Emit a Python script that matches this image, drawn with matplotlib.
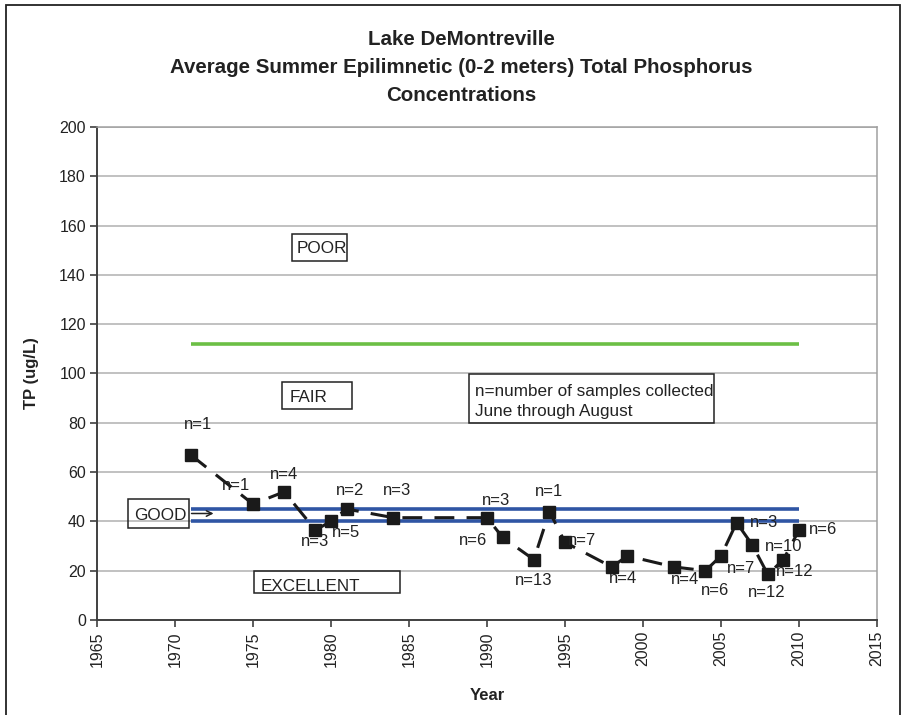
import matplotlib.pyplot as plt
from matplotlib.patches import Rectangle

plt.rcParams['font.family'] = ['Liberation Sans', 'DejaVu Sans']

# Data
years = [1971, 1975, 1977, 1979, 1980, 1981, 1984, 1990, 1991, 1993, 1994,
         1995, 1998, 1999, 2002, 2004, 2005, 2006, 2007, 2008, 2009, 2010]
tp = [67, 47, 52, 36.5, 40, 45, 41.5, 41.5, 33.5, 24.5, 44,
      31.5, 21.5, 26, 21.5, 20, 26, 39.5, 30.5, 18.5, 24.5, 36.5]
n_labels = ['n=1', 'n=1', 'n=4', 'n=3', 'n=5', 'n=2', 'n=3', 'n=3', 'n=6', 'n=13', 'n=1',
            'n=7', 'n=4', '', 'n=4', 'n=6', 'n=7', 'n=3', 'n=10', 'n=12', 'n=12', 'n=6']

# where each n= label sits relative to its point (pixels)
label_offsets = [(7, 30), (-17, 19), (0, 17), (0, -11), (15, -11), (3, 19), (4, 27),
                 (9, 17), (-30, -3), (0, -21), (0, 20), (17, 2), (11, -12), (0, 0),
                 (11, -13), (10, -20), (20, -13), (27, 0), (31, -2), (-1, -18),
                 (11, -12), (24, 1)]

# standard lines
line_start, line_end = 1971, 2010
poor_fair = 112
good_upper = 45
good_lower = 40

fig = plt.figure(figsize=(9.11, 7.15), dpi=100)
ax = fig.add_axes([0.1065, 0.1329, 0.8562, 0.6895])

ax.set_xlim(1965, 2015)
ax.set_ylim(0, 200)
ax.set_xticks(range(1965, 2016, 5))
ax.set_yticks(range(0, 201, 20))
ax.yaxis.grid(True, color='#b0b0b0', linewidth=1.1)
ax.set_axisbelow(True)
ax.tick_params(axis='x', labelrotation=90)
ax.tick_params(length=5, width=1.2, color='#404040', labelsize=11.5, labelcolor='#222222', pad=3)

for side in ['left', 'bottom']:
    ax.spines[side].set_color('#404040')
    ax.spines[side].set_linewidth(1.4)
for side in ['top', 'right']:
    ax.spines[side].set_color('#a0a0a0')
    ax.spines[side].set_linewidth(1.1)

ax.hlines(poor_fair, line_start, line_end, color='#6cbf45', linewidth=2.6, zorder=2)
ax.hlines([good_upper, good_lower], line_start, line_end, color='#2f55a4', linewidth=2.6, zorder=2)

ax.plot(years, tp, color='#1a1a1a', linewidth=2.2, linestyle=(0, (6.5, 4)),
        marker='s', markersize=8.8, zorder=3)

for x, y, lab, off in zip(years, tp, n_labels, label_offsets):
    if lab:
        ax.annotate(lab, (x, y), xytext=off, textcoords='offset pixels',
                    ha='center', va='center', fontsize=12, color='#222222', zorder=4)


def label_box(x0, x1, y0, y1, text, tx, ty):
    ax.add_patch(Rectangle((x0, y0), x1 - x0, y1 - y0, fill=False,
                           edgecolor='#222222', linewidth=1.1, zorder=4))
    ax.text(tx, ty, text, ha='left', va='center', fontsize=12.3,
            color='#222222', linespacing=1.4, zorder=4)


label_box(1977.48, 1981.0, 145.6, 156.4, 'POOR', 1977.8, 150.8)
label_box(1976.87, 1981.33, 85.4, 96.6, 'FAIR', 1977.35, 90.3)
label_box(1988.87, 2004.57, 80.0, 99.7, 'n=number of samples collected\nJune through August',
          1989.2, 88.6)
label_box(1966.97, 1970.88, 37.4, 48.9, 'GOOD', 1967.35, 42.3)
label_box(1975.08, 1984.42, 10.8, 20.0, 'EXCELLENT', 1975.5, 13.4)
ax.annotate('', xy=(1972.65, 43.2), xytext=(1970.88, 43.2),
            arrowprops=dict(arrowstyle='->', color='#222222', lw=1.1))

ax.set_ylabel('TP (ug/L)', fontsize=12, fontweight='bold', color='#222222')
ax.yaxis.set_label_coords(-0.075, 0.5)
ax.set_xlabel('Year', fontsize=12, fontweight='bold', color='#222222')
ax.xaxis.set_label_coords(0.5, -0.138)

fig.text(0.506, 0.905, 'Lake DeMontreville\nAverage Summer Epilimnetic (0-2 meters) Total Phosphorus\nConcentrations',
         ha='center', va='center', fontsize=14.8, fontweight='bold', color='#222222',
         linespacing=1.6)

# outer chart border
fig.patches.append(Rectangle((6 / 911, -0.05), 894 / 911, 1.05 - 5 / 715, fill=False,
                             edgecolor='#222222', linewidth=1.3, transform=fig.transFigure))

fig.savefig('out.png', dpi=100)
